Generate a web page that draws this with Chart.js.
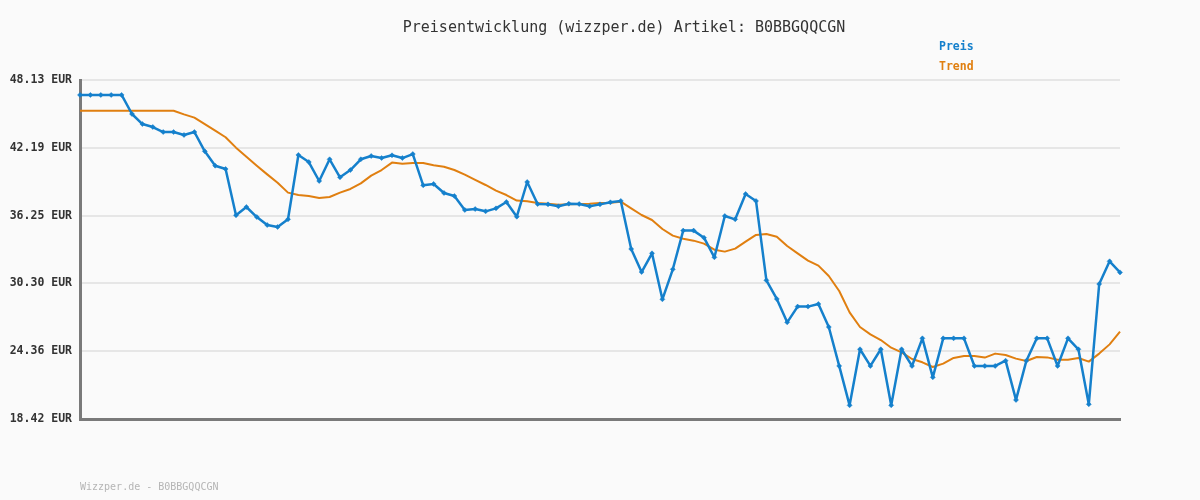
<!DOCTYPE html>
<html>
<head>
<meta charset="utf-8">
<script src="https://cdn.jsdelivr.net/npm/chart.js@4/dist/chart.umd.min.js"></script>
<style>
  html, body { margin: 0; padding: 0; background: #fafafa; }
  #wrap { width: 1200px; height: 500px; position: relative; }
</style>
</head>
<body>
<div id="wrap"><canvas id="priceChart" width="1200" height="500"></canvas></div>
<script>
'use strict';

// ── Data ──────────────────────────────────────────────────
const TITLE  = 'Preisentwicklung (wizzper.de) Artikel: B0BBGQQCGN';
const FOOTER = 'Wizzper.de - B0BBGQQCGN';
const SERIES_NAMES = ['Preis', 'Trend'];
const Y_TICKS = [48.13, 42.19, 36.25, 30.30, 24.36, 18.42];

const PREIS = [
  46.82, 46.82, 46.82, 46.82, 46.82, 45.15, 44.27, 44.01, 43.57, 43.57,
  43.31, 43.57, 41.88, 40.62, 40.33, 36.27, 37.00, 36.12, 35.42, 35.25,
  35.92, 41.56, 40.94, 39.28, 41.18, 39.60, 40.24, 41.18, 41.47, 41.29,
  41.53, 41.29, 41.64, 38.90, 39.02, 38.23, 37.96, 36.74, 36.82, 36.62,
  36.88, 37.44, 36.15, 39.19, 37.26, 37.23, 37.06, 37.29, 37.26, 37.06,
  37.23, 37.41, 37.53, 33.32, 31.30, 32.94, 28.91, 31.54, 34.93, 34.93,
  34.31, 32.59, 36.21, 35.92, 38.14, 37.53, 30.57, 28.94, 26.89, 28.27,
  28.27, 28.50, 26.48, 23.07, 19.62, 24.53, 23.07, 24.53, 19.62, 24.53,
  23.07, 25.49, 22.07, 25.49, 25.49, 25.49, 23.07, 23.07, 23.07, 23.53,
  20.09, 23.53, 25.49, 25.49, 23.07, 25.49, 24.53, 19.71, 30.25, 32.24,
  31.27
];

const TREND = [
  45.44, 45.44, 45.44, 45.44, 45.44, 45.44, 45.44, 45.44, 45.44, 45.44,
  45.12, 44.83, 44.27, 43.69, 43.11, 42.20, 41.41, 40.62, 39.86, 39.13,
  38.26, 38.05, 37.96, 37.79, 37.88, 38.26, 38.58, 39.07, 39.75, 40.24,
  40.89, 40.80, 40.86, 40.86, 40.65, 40.53, 40.24, 39.83, 39.37, 38.93,
  38.43, 38.05, 37.56, 37.50, 37.35, 37.29, 37.20, 37.23, 37.26, 37.29,
  37.35, 37.38, 37.47, 36.88, 36.30, 35.86, 35.07, 34.49, 34.22, 34.05,
  33.79, 33.26, 33.09, 33.35, 33.96, 34.55, 34.63, 34.40, 33.58, 32.94,
  32.30, 31.86, 30.95, 29.64, 27.77, 26.48, 25.84, 25.34, 24.67, 24.26,
  23.68, 23.39, 22.98, 23.27, 23.77, 23.94, 23.94, 23.80, 24.15, 24.03,
  23.71, 23.50, 23.85, 23.82, 23.62, 23.62, 23.77, 23.45, 24.15, 24.96,
  26.07
];

const LABELS = PREIS.map((_, i) => String(i + 1));

const COLORS = {
  preis: '#1580cc',
  trend: '#e07f10',
  text:  '#333333',
  grid:  '#e6e6e6',
  axis:  '#7a7a7a',
  foot:  '#b5b5b5',
};

const MONO = "'DejaVu Sans Mono', 'Liberation Mono', monospace";

// ── Text overlay: title, legend, footer ───────────────────
const textPlugin = {
  id: 'textOverlay',
  afterDraw(chart) {
    const c = chart.ctx;
    c.save();
    c.textBaseline = 'middle';
    c.fillStyle = COLORS.text;
    c.font = '15px ' + MONO;
    c.textAlign = 'center';
    c.fillText(TITLE, 624, 28);

    c.textAlign = 'left';
    c.font = 'bold 11.5px ' + MONO;
    c.fillStyle = COLORS.preis;
    c.fillText(SERIES_NAMES[0], 939, 47);
    c.fillStyle = COLORS.trend;
    c.fillText(SERIES_NAMES[1], 939, 67);

    c.font = '10px ' + MONO;
    c.fillStyle = COLORS.foot;
    c.fillText(FOOTER, 80, 487);
    c.restore();
  }
};

const ctx = document.getElementById('priceChart').getContext('2d');
new Chart(ctx, {
  type: 'line',
  data: {
    labels: LABELS,
    datasets: [
      {
        label: SERIES_NAMES[1], data: TREND,
        borderColor: COLORS.trend, backgroundColor: COLORS.trend,
        borderWidth: 2, pointRadius: 0, tension: 0, order: 2,
        borderJoinStyle: 'round',
      },
      {
        label: SERIES_NAMES[0], data: PREIS,
        borderColor: COLORS.preis, backgroundColor: COLORS.preis,
        borderWidth: 2.5, borderJoinStyle: 'round',
        pointRadius: 2.5, pointBorderWidth: 0.5,
        pointStyle: 'rectRot', tension: 0, order: 1,
      },
    ]
  },
  options: {
    responsive: false, animation: false,
    layout: { padding: { left: 0, right: 80, top: 80, bottom: 81 } },
    plugins: { legend: { display: false }, title: { display: false }, tooltip: { enabled: false } },
    scales: {
      x: {
        offset: false,
        ticks: { display: false },
        grid: { display: false, drawTicks: false },
        border: { color: COLORS.axis, width: 3 },
        afterFit: s => { s.height = 0; },
      },
      y: {
        min: Y_TICKS[Y_TICKS.length - 1], max: Y_TICKS[0],
        afterBuildTicks: s => { s.ticks = Y_TICKS.map(v => ({ value: v })); },
        afterFit: s => { s.width = 80; },
        ticks: {
          padding: 8, color: COLORS.text,
          font: { family: MONO, size: 11.5, weight: 'bold' },
          callback: v => Number(v).toFixed(2) + ' EUR',
        },
        grid: { color: COLORS.grid, lineWidth: 2, drawTicks: false },
        border: { color: COLORS.axis, width: 3 },
      }
    }
  },
  plugins: [textPlugin]
});
</script>
</body>
</html>
